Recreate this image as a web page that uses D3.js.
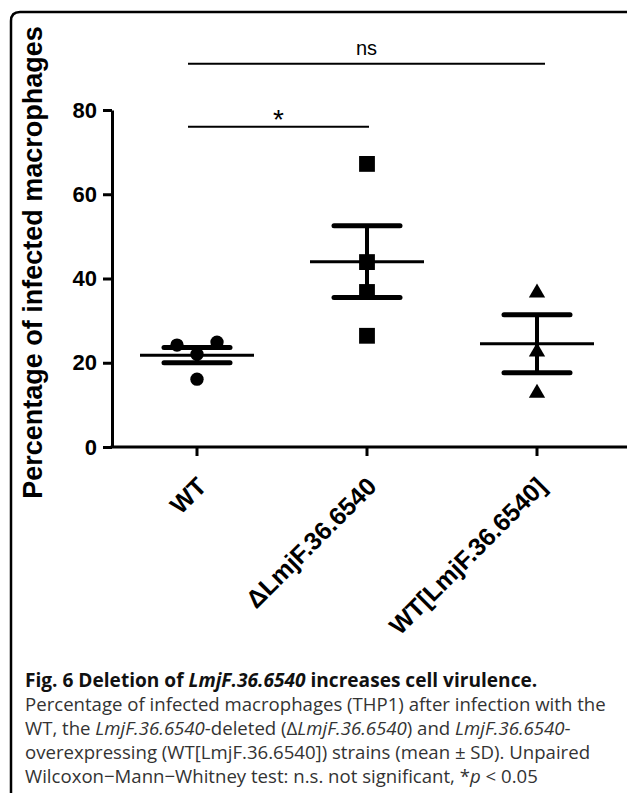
<!DOCTYPE html>
<html>
<head>
<meta charset="utf-8">
<script src="https://cdn.jsdelivr.net/npm/d3@7"></script>
<style>
  body { margin: 0; background: #fff; }
  svg { display: block; }
</style>
</head>
<body>
<div id="chart"></div>
<script>
// groups on the x axis
const groups = ["WT", "\u0394LmjF.36.6540", "WT[LmjF.36.6540]"];
// individual replicates (% infected macrophages)
const wtValues = [16.1, 22.0, 24.2, 24.9];
const delValues = [26.4, 36.8, 43.9, 67.2];
const oeValues = [12.8, 22.6, 36.6];
// mean and error bar, as drawn
const means = [21.8, 44.0, 24.5];
const errors = [1.8, 8.5, 6.9];
const shapes = ["circle", "square", "triangle"];
const yTicks = [0, 20, 40, 60, 80];
// significance brackets
const comparisons = [
    { from: 0, to: 2, level: 91, label: "ns" },
    { from: 0, to: 1, level: 76, label: "*" }
];

const width = 627;
const height = 793;
const margin = { top: 110, bottom: 346, left: 112, right: 5 };

const svg = d3.select("#chart").append("svg")
    .attr("width", width)
    .attr("height", height);

// frame with rounded top-left corner
svg.append("path")
    .attr("d", "M627,12H20Q11,12 11,21V793")
    .attr("fill", "none")
    .attr("stroke", "#000")
    .attr("stroke-width", 2.5);

const x = d3.scaleBand()
    .domain(groups)
    .range([margin.left, 622]);

const y = d3.scaleLinear()
    .domain([0, 80])
    .range([height - margin.bottom, margin.top]);

const sym = {
    circle: d3.symbol(d3.symbolCircle, 140),
    square: d3.symbol(d3.symbolSquare, 250),
    triangle: d3.symbol(d3.symbolTriangle, 115)
};

// y axis
const yAxis = svg.append("g")
    .attr("transform", `translate(${margin.left},0)`)
    .call(d3.axisLeft(y).tickValues(yTicks).tickSize(9).tickSizeOuter(0).tickPadding(6));
yAxis.select(".domain").attr("stroke-width", 3);
yAxis.selectAll(".tick line").attr("stroke-width", 3);
yAxis.selectAll(".tick text")
    .attr("font-family", "Liberation Sans, Arial, sans-serif")
    .attr("font-weight", "bold")
    .attr("font-size", 22)
    .attr("fill", "#000");

// x axis
const xAxis = svg.append("g")
    .attr("transform", `translate(0,${y(0)})`)
    .call(d3.axisBottom(x).tickSize(9).tickSizeOuter(0));
xAxis.select(".domain").attr("d", `M${margin.left - 1.5},0H${width}`).attr("stroke-width", 3);
xAxis.selectAll(".tick line").attr("stroke-width", 3);
xAxis.selectAll(".tick text")
    .attr("x", 0).attr("y", 0).attr("dy", 0)
    .attr("text-anchor", "end")
    .attr("transform", "translate(11,41) rotate(-45)")
    .attr("font-family", "Liberation Sans, Arial, sans-serif")
    .attr("font-weight", "bold")
    .attr("font-size", 25)
    .attr("fill", "#000");

// y axis title
svg.append("text")
    .attr("transform", `translate(42,${(28 + 497) / 2}) rotate(-90)`)
    .attr("text-anchor", "middle")
    .attr("font-family", "Liberation Sans, Arial, sans-serif")
    .attr("font-weight", "bold")
    .attr("font-size", 27)
    .text("Percentage of infected macrophages");

// simple dodge so overlapping points spread sideways
function dodge(values, size, step) {
    const placed = [];
    values.slice().sort((a, b) => a - b).forEach((v) => {
        const py = y(v);
        for (let k = 0; k < 9; k++) {
            const off = k === 0 ? 0 : (k % 2 ? -1 : 1) * Math.ceil(k / 2) * step;
            const hit = placed.some((p) => p.off === off && Math.abs(p.py - py) < size);
            if (!hit) { placed.push({ v: v, py: py, off: off }); break; }
        }
    });
    return placed;
}

const allValues = [wtValues, delValues, oeValues];
groups.forEach((g, i) => {
    const cx = x(g) + x.bandwidth() / 2;
    const pts = dodge(allValues[i], 13, 20);
    const grp = svg.append("g");

    // error bar
    grp.append("line")
        .attr("x1", cx).attr("x2", cx)
        .attr("y1", y(means[i] - errors[i])).attr("y2", y(means[i] + errors[i]))
        .attr("stroke", "#000").attr("stroke-width", 4);
    [means[i] - errors[i], means[i] + errors[i]].forEach((v) => {
        grp.append("line")
            .attr("x1", cx - 33).attr("x2", cx + 33)
            .attr("y1", y(v)).attr("y2", y(v))
            .attr("stroke", "#000").attr("stroke-width", 5)
            .attr("stroke-linecap", "round");
    });
    // mean
    grp.append("line")
        .attr("x1", cx - 57).attr("x2", cx + 57)
        .attr("y1", y(means[i])).attr("y2", y(means[i]))
        .attr("stroke", "#000").attr("stroke-width", 3);

    grp.selectAll("path.pt")
        .data(pts)
        .join("path")
        .attr("class", "pt")
        .attr("d", sym[shapes[i]])
        .attr("transform", (d) => `translate(${cx + d.off},${d.py})`)
        .attr("fill", "#000");
});

// significance brackets
comparisons.forEach((c) => {
    const x1 = x(groups[c.from]) + x.bandwidth() / 2 - 9;
    const x2 = x(groups[c.to]) + x.bandwidth() / 2 + (c.label === "ns" ? 8 : 2);
    svg.append("line")
        .attr("x1", x1).attr("x2", x2)
        .attr("y1", y(c.level)).attr("y2", y(c.level))
        .attr("stroke", "#000").attr("stroke-width", 2);
    svg.append("text")
        .attr("x", (x1 + x2) / 2)
        .attr("y", y(c.level) - (c.label === "ns" ? 9 : -2))
        .attr("text-anchor", "middle")
        .attr("font-family", "Liberation Sans, Arial, sans-serif")
        .attr("font-size", c.label === "ns" ? 20 : 28)
        .text(c.label);
});

// caption
const cap = svg.append("g")
    .attr("font-family", "Open Sans, sans-serif");

const title = cap.append("text")
    .attr("x", 25).attr("y", 687)
    .attr("font-size", 19.1)
    .attr("font-weight", "bold")
    .attr("fill", "#111");
title.append("tspan").text("Fig. 6 Deletion of ");
title.append("tspan").attr("font-style", "italic").text("LmjF.36.6540");
title.append("tspan").text(" increases cell virulence.");

const lines = [
    [["Percentage of infected macrophages (THP1) after infection with the", false]],
    [["WT, the ", false], ["LmjF.36.6540", true], ["-deleted (\u0394", false], ["LmjF.36.6540", true],
     [") and ", false], ["LmjF.36.6540", true], ["-", false]],
    [["overexpressing (WT[LmjF.36.6540]) strains (mean \u00b1 SD). Unpaired", false]],
    [["Wilcoxon\u2212Mann\u2212Whitney test: n.s. not significant, *", false], ["p", true], [" < 0.05", false]]
];
lines.forEach((parts, i) => {
    const t = cap.append("text")
        .attr("x", 25).attr("y", 711 + i * 24)
        .attr("font-size", 18.6)
        .attr("fill", "#333");
    parts.forEach((p) => {
        t.append("tspan").attr("font-style", p[1] ? "italic" : null).text(p[0]);
    });
});
</script>
</body>
</html>
